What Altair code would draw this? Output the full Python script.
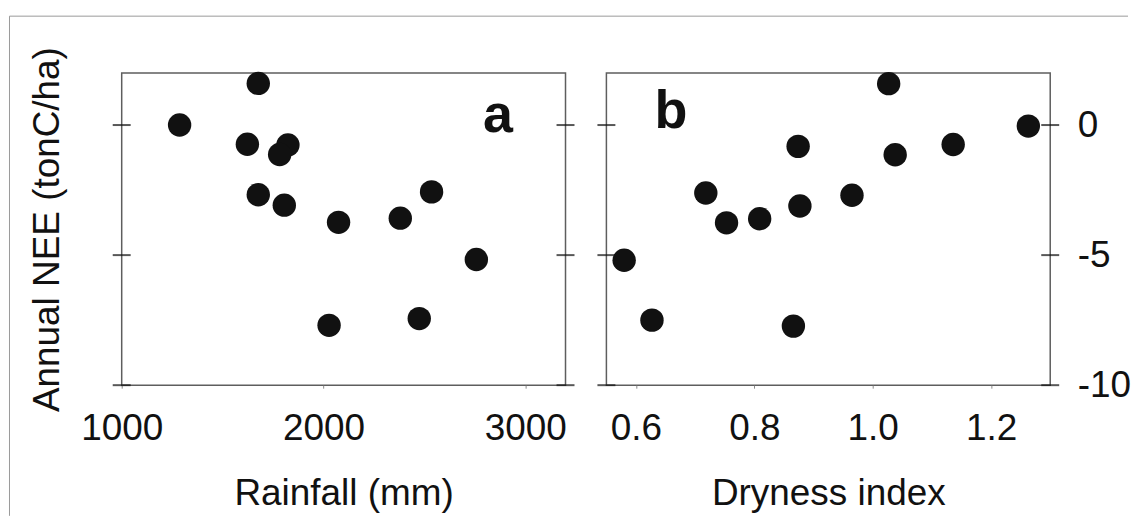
import altair as alt
import pandas as pd

# ---- data ----
# Panel a: annual rainfall (mm) vs annual NEE (tonC/ha)
rain_mm = [1287, 1677, 1623, 1824, 1783, 1677, 1806, 2075, 2381, 2536, 2758, 2028, 2475]
rain_nee = [0.0, 1.6, -0.74, -0.77, -1.13, -2.68, -3.08, -3.74, -3.58, -2.57, -5.17, -7.70, -7.44]

# Panel b: dryness index vs annual NEE (tonC/ha)
dry_idx = [0.580, 0.627, 0.718, 0.753, 0.809, 0.874, 0.877, 0.866, 0.965, 1.027, 1.038, 1.136, 1.263]
dry_nee = [-5.20, -7.50, -2.61, -3.76, -3.60, -0.82, -3.11, -7.73, -2.70, 1.59, -1.14, -0.75, -0.04]

y_ticks = [0, -5, -10]
rain_ticks = [1000, 2000, 3000]
dry_ticks = [0.6, 0.8, 1.0, 1.2]

panel_letters = ["a", "b"]

# ---- styling ----
FONT = "Liberation Sans"
INK = "#111111"
W, H = 445, 313
FS = 37

df_a = pd.DataFrame({"rain": rain_mm, "nee": rain_nee})
df_b = pd.DataFrame({"dry": dry_idx, "nee": dry_nee})
df_yt = pd.DataFrame({"nee": y_ticks})
df_one = pd.DataFrame({"k": [0]})

ys = alt.Scale(domain=[-10, 2], nice=False, zero=False)
xs_a = alt.Scale(domain=[1000, 3200], nice=False, zero=False)
xs_b = alt.Scale(domain=[0.55, 1.3], nice=False, zero=False)

xaxis_common = dict(
    grid=False, domain=False, ticks=True, tickSize=3, tickColor="#8a8a8a", tickWidth=1,
    labelFont=FONT, labelFontSize=FS, labelColor=INK, labelPadding=22, labelFlush=False,
    titleFont=FONT, titleFontSize=FS, titleFontWeight="normal", titleColor=INK, titlePadding=30,
)

# ---------- panel a ----------
ax_a_x = alt.Axis(values=rain_ticks, format="d", title="Rainfall (mm)", **xaxis_common)
ax_a_y = alt.Axis(values=y_ticks, labels=False, ticks=False, domain=False, grid=False,
                  title="Annual NEE (tonC/ha)", titleFont=FONT, titleFontSize=FS,
                  titleFontWeight="normal", titleColor=INK, titlePadding=55)

pts_a = alt.Chart(df_a).mark_circle(size=550, color=INK, opacity=1).encode(
    x=alt.X("rain:Q", scale=xs_a, axis=ax_a_x),
    y=alt.Y("nee:Q", scale=ys, axis=ax_a_y),
)

def cross_ticks(xval, xscale, xtitle, yax):
    return alt.Chart(df_yt).mark_tick(orient="horizontal", size=18, thickness=2, color=INK).encode(
        x=alt.XDatum(xval, scale=xscale, title=xtitle),
        y=alt.Y("nee:Q", scale=ys, axis=yax),
    )

lab_a = alt.Chart(pd.DataFrame({"rain": [2865], "nee": [-0.26], "t": [panel_letters[0]]})).mark_text(
    font=FONT, fontSize=54, fontWeight="bold", align="center", baseline="alphabetic", color=INK
).encode(
    x=alt.X("rain:Q", scale=xs_a, axis=ax_a_x),
    y=alt.Y("nee:Q", scale=ys, axis=ax_a_y),
    text="t:N",
)

border_left = alt.Chart(df_one).mark_rule(color="#9a9a9a", strokeWidth=1).encode(
    x=alt.value(-112.5), y=alt.value(-57), y2=alt.value(444)
)
border_top = alt.Chart(df_one).mark_rule(color="#9a9a9a", strokeWidth=1).encode(
    x=alt.value(-112.5), x2=alt.value(1009), y=alt.value(-57)
)

panel_a = alt.layer(
    pts_a, lab_a,
    cross_ticks(1000, xs_a, "Rainfall (mm)", ax_a_y),
    cross_ticks(3200, xs_a, "Rainfall (mm)", ax_a_y),
    border_left, border_top,
).properties(width=W, height=H)

# ---------- panel b ----------
ax_b_x = alt.Axis(values=dry_ticks, format=".1f", title="Dryness index", **xaxis_common)
ax_b_y = alt.Axis(values=y_ticks, orient="right", title=None, ticks=False, domain=False, grid=False,
                  labelFont=FONT, labelFontSize=FS, labelColor=INK, labelPadding=27,
                  labelAlign="left", labelBaseline="middle",
                  labelExpr="datum.value < 0 ? '-' + toString(-datum.value) : '\u2004' + toString(datum.value)")

pts_b = alt.Chart(df_b).mark_circle(size=550, color=INK, opacity=1).encode(
    x=alt.X("dry:Q", scale=xs_b, axis=ax_b_x),
    y=alt.Y("nee:Q", scale=ys, axis=ax_b_y),
)

lab_b = alt.Chart(pd.DataFrame({"dry": [0.659], "nee": [-0.11], "t": [panel_letters[1]]})).mark_text(
    font=FONT, fontSize=54, fontWeight="bold", align="center", baseline="alphabetic", color=INK
).encode(
    x=alt.X("dry:Q", scale=xs_b, axis=ax_b_x),
    y=alt.Y("nee:Q", scale=ys, axis=ax_b_y),
    text="t:N",
)

panel_b = alt.layer(
    pts_b, lab_b,
    cross_ticks(0.55, xs_b, "Dryness index", ax_b_y),
    cross_ticks(1.3, xs_b, "Dryness index", ax_b_y),
).properties(width=W, height=H)

chart = alt.hconcat(panel_a, panel_b, spacing=41, bounds="flush").properties(
    padding={"left": 0, "top": 5.5, "right": 0, "bottom": 0},
    background="white",
).configure_view(stroke="#5e5e5e", strokeWidth=1.5)

chart.save("out.html", embed_options={"renderer": "svg", "actions": False})
